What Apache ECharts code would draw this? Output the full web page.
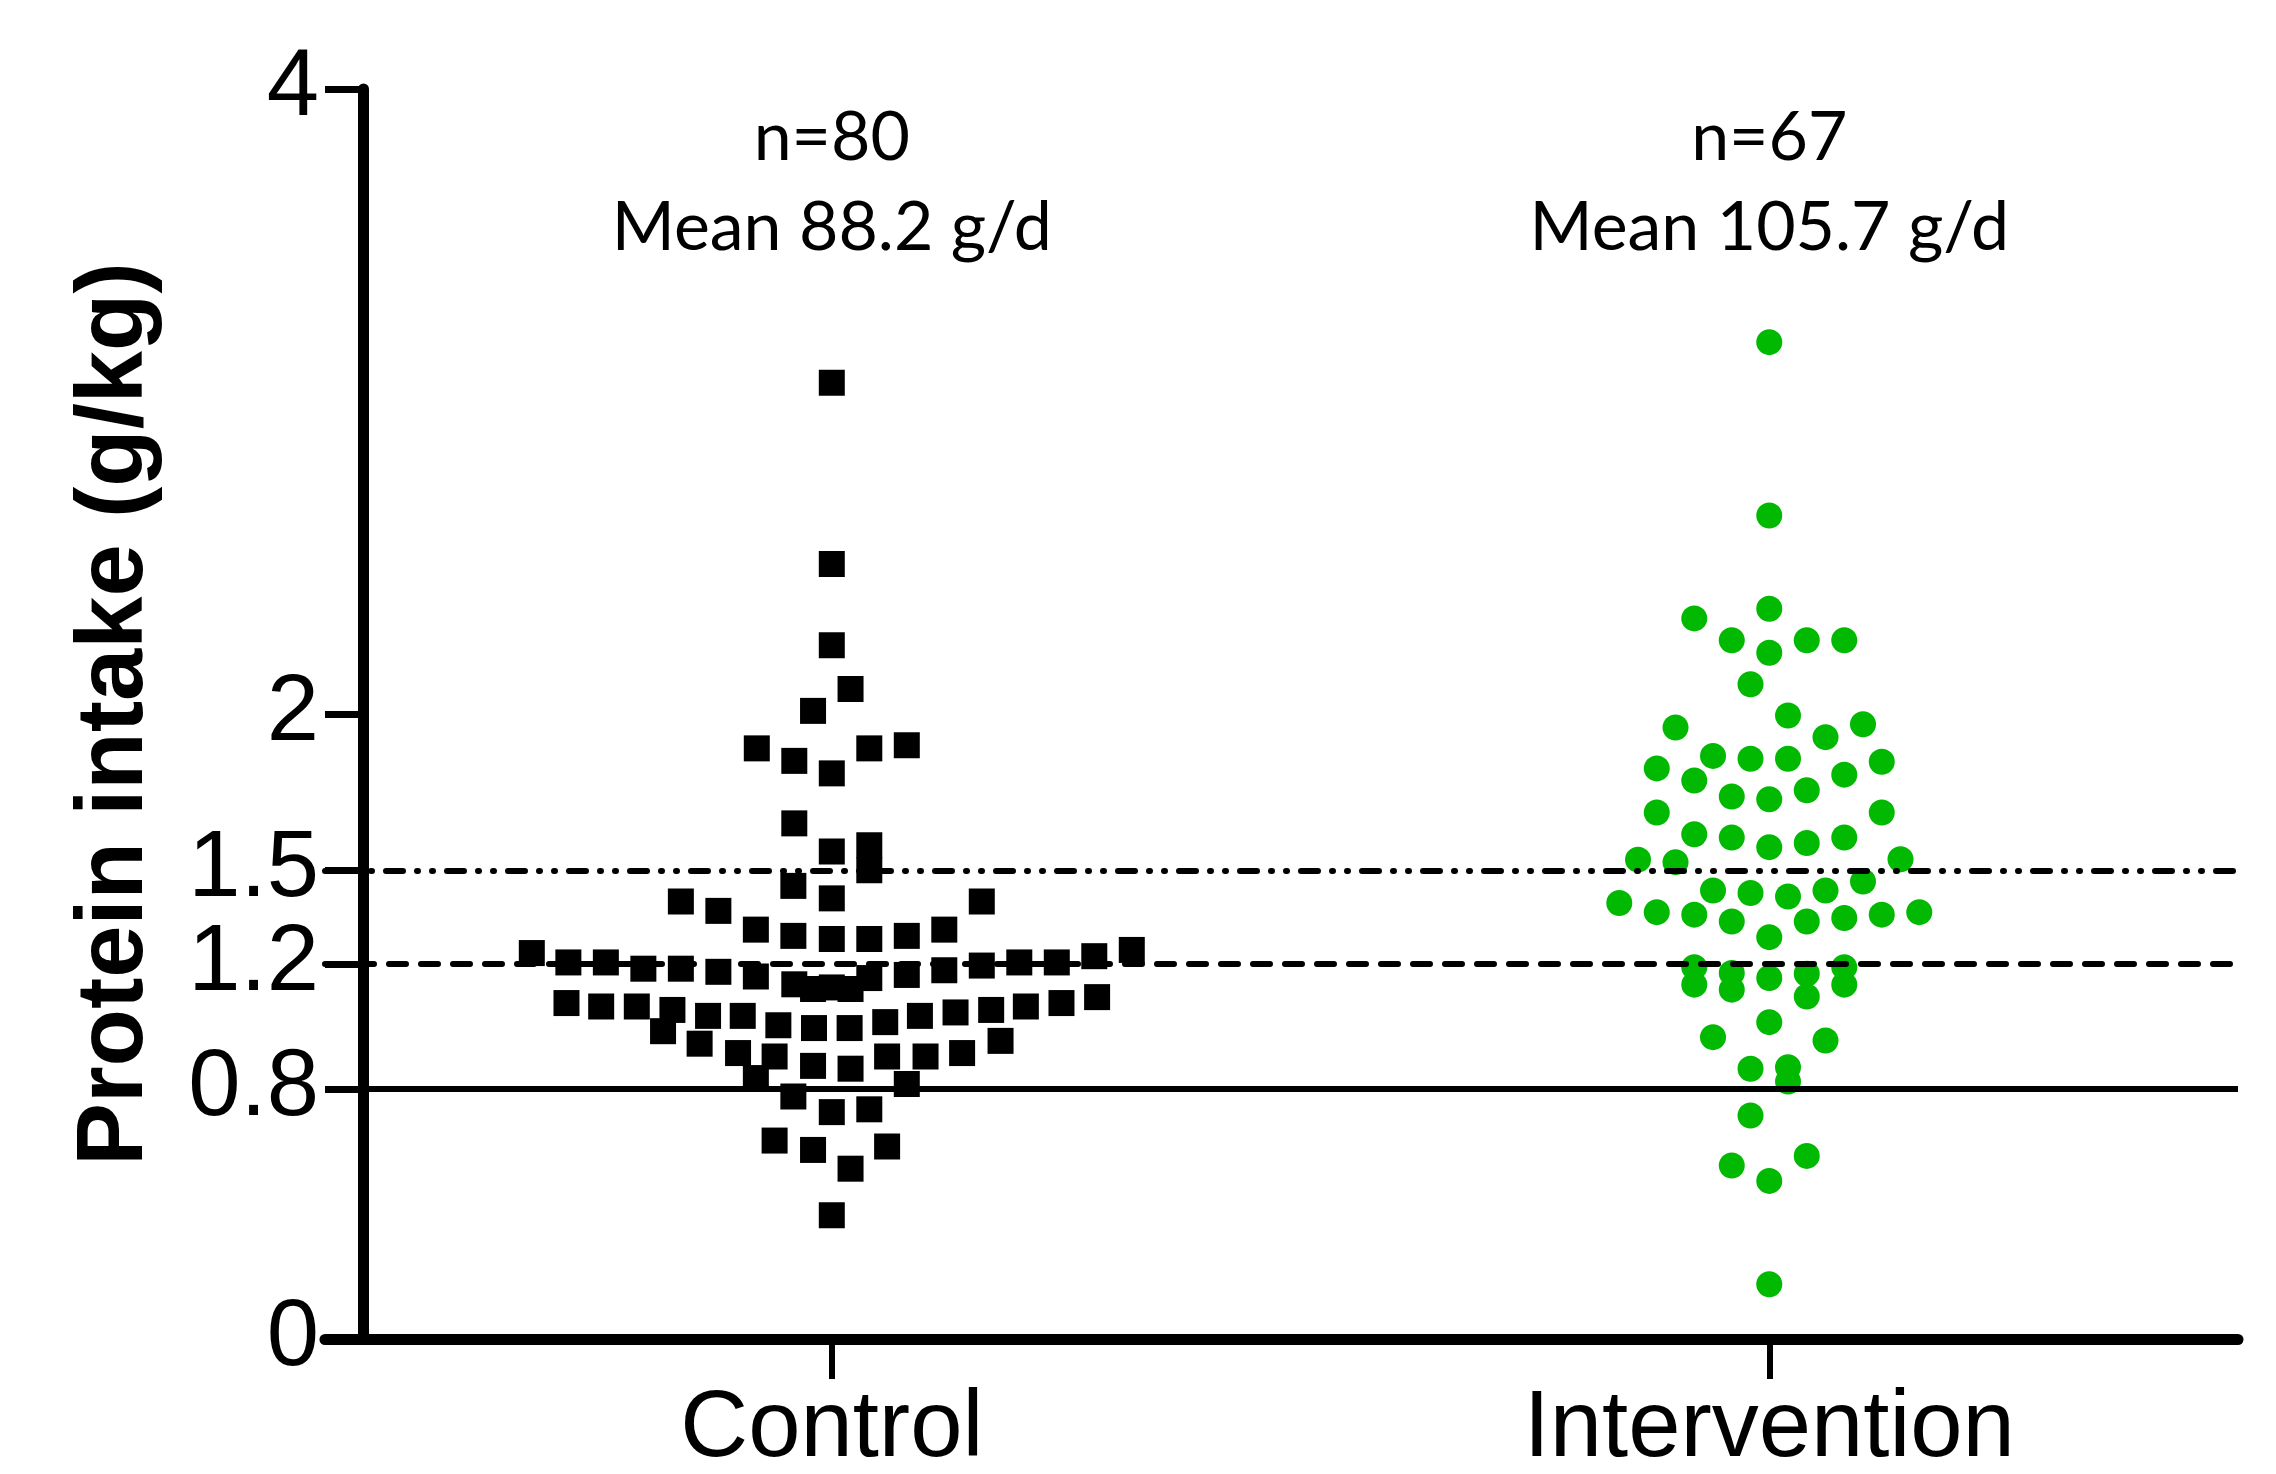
<!DOCTYPE html>
<html><head><meta charset="utf-8">
<script src="https://cdn.jsdelivr.net/npm/echarts@6/dist/echarts.min.js"></script>
<style>html,body{margin:0;padding:0;background:#fff}#c{width:2276px;height:1474px}</style>
</head><body><div id="c"></div>
<script>
// ---- data ----
const categories = ['Control', 'Intervention'];
const yTicks = [0, 0.8, 1.2, 1.5, 2, 4];
const refLines = [0.8, 1.2, 1.5];
const annotations = [['n=80', 'Mean 88.2 g/d'], ['n=67', 'Mean 105.7 g/d']];

// horizontal swarm offset (in group widths) and protein intake (g/kg) for each participant
const controlOffset = [0,0,0,0.02,-0.02,-0.08,-0.04,0,0.04,0.08,-0.04,0,0.04,0.04,-0.041,0,-0.161,-0.121,0.16,-0.081,-0.041,0,0.04,0.08,0.12,
  -0.32,-0.281,-0.241,-0.201,-0.161,-0.121,-0.081,0.08,0.12,0.16,0.2,0.24,0.28,0.32,
  -0.04,-0.02,0,0.02,0.04,
  -0.283,-0.246,-0.208,-0.17,-0.18,-0.132,-0.095,-0.057,-0.019,0.019,0.057,0.094,0.132,0.17,0.207,0.245,0.283,
  -0.141,-0.1,-0.061,-0.02,0.02,0.059,0.1,0.139,0.18,
  -0.081,-0.041,0.08,0,0.04,-0.061,-0.02,0.059,0.02,0];
const controlValue = [3.06,2.48,2.22,2.08,2.01,1.89,1.85,1.81,1.89,1.90,1.65,1.56,1.58,1.50,1.45,1.41,1.40,1.37,1.40,1.31,1.29,1.28,1.28,1.29,1.31,
  1.235,1.205,1.205,1.185,1.185,1.175,1.16,1.165,1.18,1.195,1.205,1.205,1.225,1.245,
  1.135,1.12,1.125,1.12,1.155,
  1.075,1.064,1.064,1.053,0.985,1.034,1.034,1.004,0.995,0.995,1.014,1.034,1.045,1.053,1.064,1.075,1.094,
  0.945,0.915,0.904,0.874,0.865,0.904,0.904,0.915,0.954,
  0.835,0.776,0.816,0.726,0.735,0.635,0.605,0.616,0.545,0.396];

const interventionOffset = [0,0,-0.08,0,-0.04,0,0.04,0.08,-0.02,0.02,-0.1,0.06,0.1,-0.12,-0.06,-0.02,0.02,0.12,-0.08,0.08,-0.04,0,0.04,-0.12,0.12,-0.08,-0.04,0,0.04,0.08,-0.14,-0.1,0.14,0.1,
  -0.16,-0.12,-0.08,-0.06,-0.04,-0.02,0,0.02,0.04,0.06,0.08,0.12,0.16,
  -0.08,-0.08,-0.04,-0.04,0,0.04,0.04,0.08,0.08,0,-0.06,0.06,-0.02,0.02,0.02,-0.02,-0.04,0.04,0,0];
const interventionValue = [3.19,2.635,2.306,2.337,2.236,2.196,2.236,2.236,2.095,1.995,1.957,1.926,1.967,1.826,1.866,1.857,1.857,1.847,1.787,1.806,1.736,1.727,1.756,1.685,1.685,1.615,1.605,1.574,1.587,1.605,1.534,1.526,1.535,1.464,
  1.395,1.366,1.358,1.435,1.336,1.427,1.286,1.416,1.336,1.435,1.347,1.358,1.366,
  1.19,1.134,1.171,1.118,1.155,1.169,1.096,1.19,1.134,1.014,0.966,0.955,0.865,0.87,0.824,0.715,0.555,0.586,0.506,0.175];

// ---- build ----
const controlData = controlValue.map((v, i) => [0 + controlOffset[i], v]);
const interventionData = interventionValue.map((v, i) => [1 + interventionOffset[i], v]);

const refStyles = [
  { type: 'solid', width: 6, color: '#000', opacity: 1 },
  { type: [17, 15], width: 6, color: '#000', cap: 'round', opacity: 1 },
  { type: [17, 14, 1, 14, 1, 14], width: 6, color: '#000', cap: 'round', opacity: 1 }
];

const chart = echarts.init(document.getElementById('c'), null, { renderer: 'canvas' });
chart.setOption({
  backgroundColor: '#fff',
  animation: false,
  grid: { left: 325, right: 38, top: 89, bottom: 135, containLabel: false, outerBoundsMode: 'none' },
  xAxis: {
    type: 'value', min: -0.5406, max: 1.5,
    splitLine: { show: false },
    axisLine: { show: true, onZero: false, lineStyle: { color: '#000', width: 11 } },
    axisTick: { show: true, customValues: [0, 1], length: 40, lineStyle: { color: '#000', width: 6 } },
    axisLabel: {
      show: true, customValues: [0, 1], margin: 44,
      formatter: v => categories[Math.round(v)],
      fontFamily: 'Liberation Sans, Arial, sans-serif', fontSize: 94, color: '#000'
    }
  },
  yAxis: {
    type: 'value', min: 0, max: 4, offset: -38,
    name: 'Protein intake (g/kg)', nameLocation: 'middle', nameGap: 200, nameRotate: 90,
    nameTextStyle: { fontFamily: 'Liberation Sans, Arial, sans-serif', fontWeight: 'bold', fontSize: 94, color: '#000' },
    splitLine: { show: false },
    axisLine: { show: true, onZero: false, lineStyle: { color: '#000', width: 11 } },
    axisTick: { show: true, customValues: yTicks, length: 38, lineStyle: { color: '#000', width: 7 } },
    axisLabel: {
      show: true, customValues: yTicks, margin: 44,
      fontFamily: 'Liberation Sans, Arial, sans-serif', fontSize: 94, color: '#000'
    }
  },
  series: [
    {
      name: 'annotations', type: 'scatter', z: 1, silent: true,
      data: [[0, 3.70], [1, 3.70]],
      symbolSize: 1, itemStyle: { color: 'rgba(0,0,0,0)', opacity: 1 },
      label: {
        show: true, position: 'inside', opacity: 1,
        formatter: p => annotations[p.dataIndex].join('\n'),
        fontFamily: 'Lato', fontSize: 68, lineHeight: 90, color: '#000'
      },
      markLine: {
        silent: true, symbol: ['none', 'none'], label: { show: false },
        data: refLines.map((v, i) => ({ yAxis: v, lineStyle: refStyles[i] }))
      }
    },
    {
      name: 'Control', type: 'scatter', z: 3, symbol: 'rect', symbolSize: 26,
      itemStyle: { color: '#000', opacity: 1 }, data: controlData
    },
    {
      name: 'Intervention', type: 'scatter', z: 3, symbol: 'circle', symbolSize: 26,
      itemStyle: { color: '#00B900', opacity: 1 }, data: interventionData
    }
  ]
});
</script>
</body></html>
